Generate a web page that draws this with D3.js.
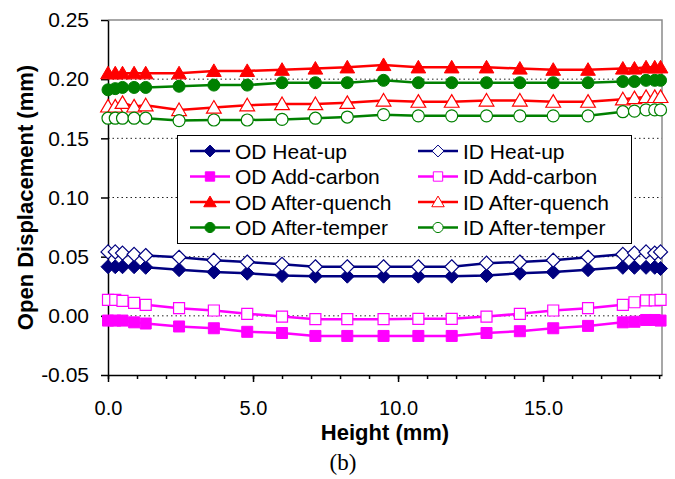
<!DOCTYPE html>
<html lang="en">
<head>
<meta charset="utf-8">
<title>Open Displacement vs Height</title>
<script src="https://d3js.org/d3.v7.min.js"></script>
<style>
  body { margin: 0; background: #fff; }
</style>
</head>
<body>
<div id="chart"></div>
<script>
// data
var heights   = [0, 0.25, 0.5, 0.9, 1.3, 2.45, 3.65, 4.8, 6.0, 7.15, 8.25, 9.5, 10.7, 11.85, 13.05, 14.2, 15.35, 16.55, 17.75, 18.15, 18.55, 18.85, 19.05];
var odHeat    = [0.0415, 0.0415, 0.0415, 0.0415, 0.041, 0.039, 0.037, 0.036, 0.034, 0.0335, 0.0335, 0.0335, 0.0335, 0.0335, 0.034, 0.036, 0.037, 0.039, 0.041, 0.041, 0.041, 0.041, 0.040];
var idHeat    = [0.054, 0.054, 0.053, 0.052, 0.051, 0.0495, 0.047, 0.0455, 0.0435, 0.0415, 0.0415, 0.0415, 0.0415, 0.0415, 0.0445, 0.0455, 0.047, 0.0495, 0.052, 0.053, 0.054, 0.053, 0.054];
var odCarbon  = [-0.004, -0.004, -0.004, -0.0055, -0.0065, -0.009, -0.0105, -0.0135, -0.0145, -0.017, -0.017, -0.017, -0.017, -0.017, -0.0145, -0.013, -0.0105, -0.0085, -0.0055, -0.005, -0.0035, -0.0035, -0.004];
var idCarbon  = [0.0135, 0.0135, 0.0127, 0.011, 0.0093, 0.0065, 0.0045, 0.0017, -0.0006, -0.0028, -0.0028, -0.0028, -0.0025, -0.0025, -0.0006, 0.0017, 0.0045, 0.0065, 0.0093, 0.0115, 0.013, 0.013, 0.0135];
var odQuench  = [0.205, 0.205, 0.205, 0.205, 0.205, 0.205, 0.207, 0.207, 0.208, 0.209, 0.210, 0.212, 0.210, 0.210, 0.210, 0.209, 0.208, 0.208, 0.209, 0.209, 0.210, 0.210, 0.210];
var idQuench  = [0.177, 0.177, 0.180, 0.177, 0.178, 0.174, 0.176, 0.178, 0.179, 0.179, 0.180, 0.182, 0.181, 0.181, 0.182, 0.182, 0.181, 0.181, 0.183, 0.184, 0.185, 0.185, 0.185];
var odTemper  = [0.191, 0.192, 0.193, 0.193, 0.193, 0.194, 0.195, 0.195, 0.197, 0.197, 0.197, 0.199, 0.197, 0.197, 0.197, 0.197, 0.197, 0.197, 0.198, 0.198, 0.199, 0.199, 0.199];
var idTemper  = [0.167, 0.167, 0.167, 0.167, 0.167, 0.165, 0.1655, 0.1655, 0.166, 0.167, 0.168, 0.170, 0.169, 0.169, 0.169, 0.169, 0.169, 0.169, 0.1725, 0.173, 0.174, 0.174, 0.174];

var seriesNames = ["OD Heat-up", "ID Heat-up", "OD Add-carbon", "ID Add-carbon",
                   "OD After-quench", "ID After-quench", "OD After-temper", "ID After-temper"];
var seriesValues = [odHeat, idHeat, odCarbon, idCarbon, odQuench, idQuench, odTemper, idTemper];

var yTicks = [-0.05, 0, 0.05, 0.10, 0.15, 0.20, 0.25];
var xTicks = [0, 5, 10, 15];
var xMinor = d3.range(0, 20, 1);

// looks for each series
var colors  = ["#000080", "#000080", "#ff00ff", "#ff00ff", "#ff0000", "#ff0000", "#008000", "#008000"];
var shapes  = ["diamond", "diamond", "square", "square", "triangle", "triangle", "circle", "circle"];
var filled  = [true, false, true, false, true, false, true, false];

var W = 675, H = 479;
var plotL = 108, plotR = 662, plotT = 20, plotB = 375;
var sans = "Arial, 'Liberation Sans', sans-serif";

var svg = d3.select("#chart").append("svg")
    .attr("width", W)
    .attr("height", H)
    .attr("font-family", sans);

var x = d3.scaleLinear().domain([0, 19.1]).range([plotL, plotR]);
var y = d3.scaleLinear().domain([-0.05, 0.25]).range([plotB, plotT]);

// marker path centred at 0,0
function marker(shape, r) {
  if (shape == "diamond") return "M0," + (-r) + "L" + r + ",0L0," + r + "L" + (-r) + ",0Z";
  if (shape == "square") return "M" + (-r) + "," + (-r) + "h" + (2*r) + "v" + (2*r) + "h" + (-2*r) + "Z";
  if (shape == "triangle") return "M0," + (-r) + "L" + (r*1.05) + "," + (r*0.8) + "L" + (-r*1.05) + "," + (r*0.8) + "Z";
  return d3.symbol().type(d3.symbolCircle).size(Math.PI*r*r)();
}
var markerR = {diamond: 7, square: 5.5, triangle: 7, circle: 6};

// grid lines
svg.append("g").selectAll("line")
  .data(yTicks.filter(function(d) { return d > -0.05 && d < 0.25; }))
  .enter().append("line")
    .attr("x1", plotL).attr("x2", plotR)
    .attr("y1", function(d) { return y(d); })
    .attr("y2", function(d) { return y(d); })
    .attr("stroke", "#222")
    .attr("stroke-width", 1)
    .attr("stroke-dasharray", "1.5,3");

// grey frame top and right
svg.append("path")
  .attr("d", "M" + plotL + "," + plotT + "H" + plotR + "V" + plotB)
  .attr("fill", "none")
  .attr("stroke", "#8a8a8a")
  .attr("stroke-width", 1.5);

// minor x ticks
svg.append("g")
  .attr("transform", "translate(0," + plotB + ")")
  .call(d3.axisBottom(x).tickValues(xMinor).tickSize(4).tickFormat(""))
  .call(function(g) { g.select(".domain").remove(); });

// x axis
var xAxis = svg.append("g")
  .attr("transform", "translate(0," + plotB + ")")
  .call(d3.axisBottom(x).tickValues(xTicks).tickSize(7).tickSizeOuter(0).tickPadding(19)
        .tickFormat(function(d) { return d.toFixed(1); }));
xAxis.selectAll("text").attr("font-size", 20).attr("font-family", sans).attr("fill", "#000");

// y axis
var yAxis = svg.append("g")
  .attr("transform", "translate(" + plotL + ",0)")
  .call(d3.axisLeft(y).tickValues(yTicks).tickSize(7).tickSizeOuter(0).tickPadding(12)
        .tickFormat(function(d) { return d.toFixed(2); }));
yAxis.selectAll("text").attr("font-size", 21).attr("font-family", sans).attr("fill", "#000");
svg.selectAll(".domain, .tick line").attr("stroke", "#000").attr("stroke-width", 1.5);

// lines and markers
var line = d3.line()
  .x(function(d, i) { return x(heights[i]); })
  .y(function(d) { return y(d); });

seriesValues.forEach(function(vals, s) {
  var g = svg.append("g");
  g.append("path")
    .attr("d", line(vals))
    .attr("fill", "none")
    .attr("stroke", colors[s])
    .attr("stroke-width", 2.5);
  g.selectAll("path.m")
    .data(vals)
    .enter().append("path")
      .attr("class", "m")
      .attr("d", marker(shapes[s], markerR[shapes[s]]))
      .attr("transform", function(d, i) { return "translate(" + x(heights[i]) + "," + y(d) + ")"; })
      .attr("fill", filled[s] ? colors[s] : "#fff")
      .attr("stroke", colors[s])
      .attr("stroke-width", filled[s] ? 1 : 1.2);
});

// legend
var legend = svg.append("g");
legend.append("rect")
  .attr("x", 177.5).attr("y", 135.5)
  .attr("width", 454).attr("height", 108)
  .attr("fill", "#fff")
  .attr("stroke", "#000")
  .attr("stroke-width", 1);

seriesNames.forEach(function(name, s) {
  var col = s % 2, row = Math.floor(s / 2);
  var lx = col == 0 ? 190 : 418;
  var ly = 151 + row * 25.5;
  var item = legend.append("g");
  item.append("line")
    .attr("x1", lx).attr("x2", lx + 40)
    .attr("y1", ly).attr("y2", ly)
    .attr("stroke", colors[s])
    .attr("stroke-width", 2.5);
  item.append("path")
    .attr("d", marker(shapes[s], markerR[shapes[s]] * 0.85))
    .attr("transform", "translate(" + (lx + 20) + "," + ly + ")")
    .attr("fill", filled[s] ? colors[s] : "#fff")
    .attr("stroke", colors[s])
    .attr("stroke-width", 1);
  item.append("text")
    .attr("x", lx + 45)
    .attr("y", ly)
    .attr("dy", "0.36em")
    .attr("font-size", 21)
    .attr("fill", "#000")
    .text(name);
});

// axis titles
svg.append("text")
  .attr("x", (plotL + plotR) / 2)
  .attr("y", 440)
  .attr("text-anchor", "middle")
  .attr("font-size", 22)
  .attr("font-weight", "bold")
  .text("Height (mm)");

svg.append("text")
  .attr("transform", "translate(33," + ((plotT + plotB) / 2) + ") rotate(-90)")
  .attr("text-anchor", "middle")
  .attr("font-size", 22)
  .attr("font-weight", "bold")
  .text("Open Displacement (mm)");

svg.append("text")
  .attr("x", 343)
  .attr("y", 470)
  .attr("text-anchor", "middle")
  .attr("font-size", 23)
  .attr("font-family", "'Liberation Serif', 'Times New Roman', serif")
  .text("(b)");
</script>
</body>
</html>
